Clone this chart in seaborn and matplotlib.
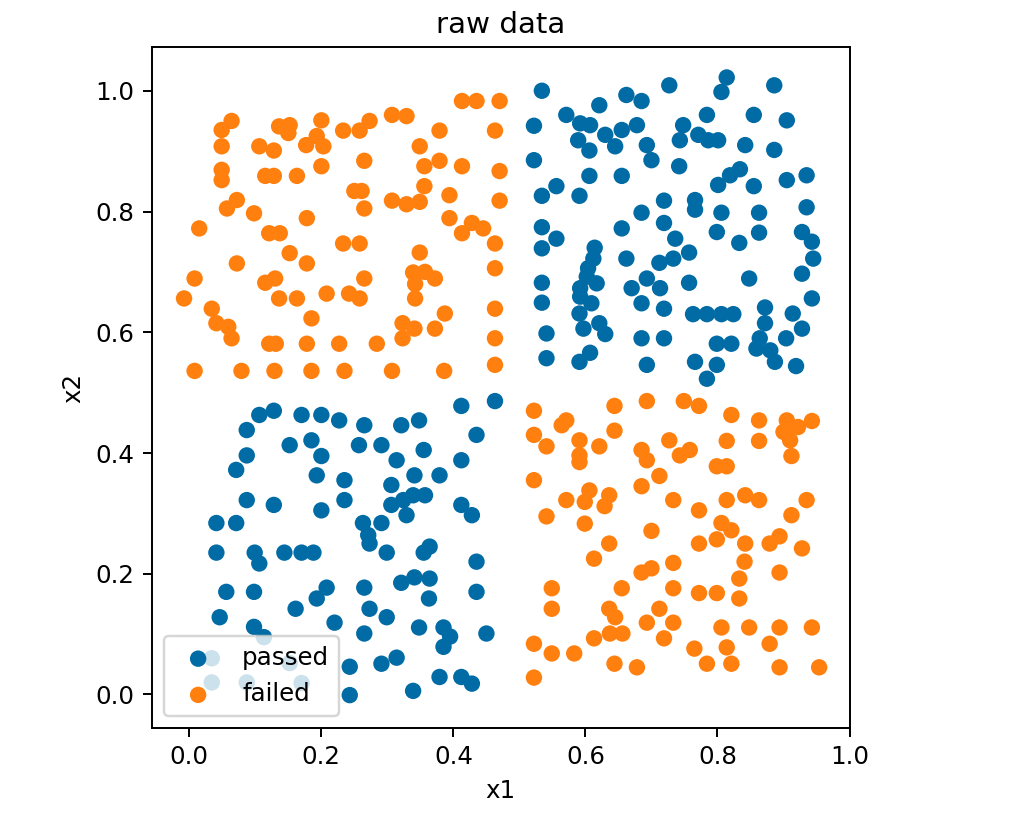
import numpy as np
import pandas as pd
import matplotlib
matplotlib.use("Agg")
import matplotlib.pyplot as plt
import seaborn as sns

# points, [x1, x2] per point
failed_top_left = np.array([
    [0.413, 0.983], [0.435, 0.983], [0.470, 0.983], [0.064, 0.950], [0.307, 0.960],
    [0.329, 0.958], [0.200, 0.951], [0.273, 0.950], [0.049, 0.935], [0.136, 0.941],
    [0.152, 0.943], [0.150, 0.930], [0.233, 0.934], [0.258, 0.934], [0.379, 0.934],
    [0.463, 0.934], [0.177, 0.910], [0.193, 0.925], [0.203, 0.908], [0.049, 0.908],
    [0.106, 0.908], [0.128, 0.901], [0.349, 0.908], [0.200, 0.875], [0.265, 0.884],
    [0.356, 0.875], [0.379, 0.884], [0.413, 0.875], [0.470, 0.867], [0.049, 0.869],
    [0.049, 0.852], [0.115, 0.859], [0.128, 0.859], [0.163, 0.859], [0.356, 0.842],
    [0.250, 0.834], [0.261, 0.834], [0.072, 0.819], [0.057, 0.805], [0.265, 0.805],
    [0.307, 0.818], [0.329, 0.812], [0.349, 0.816], [0.394, 0.827], [0.470, 0.818],
    [0.098, 0.797], [0.178, 0.789], [0.394, 0.789], [0.015, 0.772], [0.121, 0.764],
    [0.137, 0.764], [0.413, 0.764], [0.428, 0.781], [0.445, 0.772], [0.233, 0.747],
    [0.258, 0.747], [0.463, 0.747], [0.152, 0.731], [0.349, 0.732], [0.072, 0.714],
    [0.178, 0.714], [0.463, 0.706], [0.008, 0.689], [0.115, 0.682], [0.130, 0.689],
    [0.265, 0.689], [0.339, 0.699], [0.357, 0.700], [0.372, 0.689], [0.342, 0.680],
    [-0.008, 0.656], [0.136, 0.656], [0.163, 0.656], [0.208, 0.664], [0.242, 0.664],
    [0.258, 0.656], [0.342, 0.656], [0.034, 0.639], [0.185, 0.623], [0.387, 0.631],
    [0.463, 0.639], [0.041, 0.615], [0.059, 0.609], [0.064, 0.590], [0.323, 0.615],
    [0.341, 0.606], [0.372, 0.606], [0.323, 0.590], [0.121, 0.581], [0.131, 0.581],
    [0.178, 0.581], [0.227, 0.581], [0.284, 0.581], [0.463, 0.590], [0.008, 0.536],
    [0.079, 0.536], [0.129, 0.536], [0.185, 0.536], [0.235, 0.536], [0.307, 0.536],
    [0.386, 0.536], [0.463, 0.546],
])

failed_bottom_right = np.array([
    [0.522, 0.470], [0.564, 0.446], [0.571, 0.454], [0.591, 0.421], [0.621, 0.411],
    [0.644, 0.478], [0.644, 0.437], [0.693, 0.486], [0.749, 0.486], [0.772, 0.478],
    [0.821, 0.463], [0.863, 0.454], [0.905, 0.454], [0.943, 0.453], [0.922, 0.443],
    [0.900, 0.435], [0.910, 0.421], [0.912, 0.395], [0.522, 0.430], [0.541, 0.411],
    [0.591, 0.396], [0.591, 0.385], [0.685, 0.405], [0.693, 0.388], [0.727, 0.421],
    [0.743, 0.396], [0.758, 0.405], [0.814, 0.420], [0.863, 0.420], [0.799, 0.378],
    [0.814, 0.378], [0.712, 0.362], [0.522, 0.355], [0.685, 0.345], [0.606, 0.338],
    [0.599, 0.319], [0.571, 0.322], [0.636, 0.330], [0.629, 0.312], [0.733, 0.322],
    [0.772, 0.305], [0.814, 0.322], [0.842, 0.330], [0.863, 0.322], [0.935, 0.322],
    [0.541, 0.295], [0.599, 0.283], [0.912, 0.297], [0.806, 0.284], [0.821, 0.272],
    [0.799, 0.257], [0.772, 0.250], [0.842, 0.250], [0.879, 0.250], [0.894, 0.262],
    [0.928, 0.242], [0.700, 0.271], [0.636, 0.250], [0.613, 0.225], [0.685, 0.202],
    [0.700, 0.209], [0.733, 0.218], [0.841, 0.220], [0.833, 0.192], [0.894, 0.202],
    [0.549, 0.176], [0.655, 0.176], [0.733, 0.176], [0.772, 0.168], [0.799, 0.168],
    [0.833, 0.159], [0.549, 0.142], [0.636, 0.142], [0.645, 0.128], [0.712, 0.142],
    [0.693, 0.119], [0.733, 0.119], [0.613, 0.093], [0.637, 0.101], [0.656, 0.101],
    [0.806, 0.111], [0.848, 0.111], [0.894, 0.111], [0.943, 0.111], [0.719, 0.093],
    [0.522, 0.084], [0.549, 0.068], [0.583, 0.068], [0.765, 0.076], [0.814, 0.078],
    [0.879, 0.084], [0.644, 0.051], [0.678, 0.045], [0.784, 0.051], [0.821, 0.051],
    [0.894, 0.045], [0.954, 0.045], [0.522, 0.028],
])

passed_top_right = np.array([
    [0.534, 1.000], [0.621, 0.976], [0.662, 0.993], [0.685, 0.983], [0.727, 1.009],
    [0.814, 1.022], [0.806, 0.998], [0.886, 1.009], [0.522, 0.942], [0.571, 0.960],
    [0.592, 0.946], [0.607, 0.943], [0.589, 0.918], [0.606, 0.901], [0.630, 0.927],
    [0.645, 0.908], [0.655, 0.935], [0.678, 0.943], [0.693, 0.910], [0.700, 0.885],
    [0.748, 0.943], [0.743, 0.918], [0.784, 0.960], [0.771, 0.927], [0.786, 0.918],
    [0.801, 0.918], [0.842, 0.910], [0.855, 0.960], [0.886, 0.902], [0.905, 0.951],
    [0.522, 0.885], [0.742, 0.875], [0.606, 0.859], [0.655, 0.859], [0.556, 0.842],
    [0.534, 0.826], [0.591, 0.826], [0.801, 0.844], [0.819, 0.860], [0.834, 0.870],
    [0.855, 0.842], [0.905, 0.852], [0.935, 0.860], [0.719, 0.818], [0.766, 0.819],
    [0.766, 0.803], [0.685, 0.798], [0.806, 0.798], [0.863, 0.798], [0.935, 0.807],
    [0.534, 0.774], [0.556, 0.755], [0.655, 0.772], [0.719, 0.781], [0.736, 0.755],
    [0.799, 0.766], [0.833, 0.748], [0.863, 0.765], [0.928, 0.766], [0.943, 0.750],
    [0.534, 0.739], [0.614, 0.740], [0.612, 0.722], [0.662, 0.722], [0.712, 0.715],
    [0.733, 0.722], [0.757, 0.732], [0.945, 0.722], [0.604, 0.706], [0.602, 0.692],
    [0.617, 0.681], [0.592, 0.673], [0.534, 0.682], [0.670, 0.673], [0.693, 0.689],
    [0.713, 0.673], [0.757, 0.682], [0.848, 0.689], [0.928, 0.697], [0.534, 0.649],
    [0.592, 0.659], [0.609, 0.648], [0.685, 0.648], [0.719, 0.639], [0.591, 0.631],
    [0.763, 0.630], [0.784, 0.630], [0.806, 0.630], [0.824, 0.630], [0.872, 0.641],
    [0.914, 0.631], [0.943, 0.656], [0.872, 0.615], [0.541, 0.598], [0.597, 0.606],
    [0.621, 0.615], [0.630, 0.597], [0.685, 0.590], [0.719, 0.590], [0.799, 0.581],
    [0.821, 0.581], [0.864, 0.590], [0.904, 0.590], [0.928, 0.606], [0.859, 0.573],
    [0.880, 0.570], [0.541, 0.557], [0.591, 0.551], [0.607, 0.566], [0.693, 0.546],
    [0.766, 0.551], [0.799, 0.546], [0.784, 0.523], [0.887, 0.551], [0.919, 0.544],
])

passed_bottom_left = np.array([
    [0.463, 0.486], [0.412, 0.478], [0.435, 0.430], [0.106, 0.463], [0.128, 0.470],
    [0.170, 0.463], [0.200, 0.463], [0.227, 0.454], [0.265, 0.446], [0.321, 0.446],
    [0.348, 0.454], [0.087, 0.438], [0.152, 0.413], [0.185, 0.421], [0.200, 0.395],
    [0.257, 0.413], [0.291, 0.413], [0.314, 0.388], [0.355, 0.405], [0.412, 0.388],
    [0.087, 0.396], [0.071, 0.372], [0.193, 0.363], [0.235, 0.355], [0.306, 0.347],
    [0.341, 0.363], [0.379, 0.363], [0.087, 0.322], [0.128, 0.314], [0.200, 0.305],
    [0.235, 0.322], [0.306, 0.314], [0.324, 0.322], [0.339, 0.330], [0.357, 0.330],
    [0.329, 0.297], [0.412, 0.314], [0.428, 0.297], [0.041, 0.284], [0.071, 0.284],
    [0.263, 0.284], [0.291, 0.284], [0.271, 0.264], [0.273, 0.250], [0.041, 0.235],
    [0.099, 0.235], [0.106, 0.217], [0.144, 0.235], [0.170, 0.235], [0.188, 0.235],
    [0.299, 0.235], [0.355, 0.235], [0.364, 0.245], [0.435, 0.220], [0.056, 0.170],
    [0.098, 0.170], [0.193, 0.159], [0.208, 0.177], [0.265, 0.177], [0.321, 0.185],
    [0.341, 0.194], [0.364, 0.192], [0.363, 0.159], [0.435, 0.170], [0.161, 0.142],
    [0.273, 0.142], [0.046, 0.128], [0.098, 0.112], [0.220, 0.119], [0.265, 0.101],
    [0.299, 0.128], [0.348, 0.111], [0.385, 0.111], [0.395, 0.096], [0.385, 0.079],
    [0.450, 0.101], [0.243, 0.046], [0.291, 0.051], [0.314, 0.061], [0.379, 0.029],
    [0.412, 0.029], [0.428, 0.018], [0.339, 0.006], [0.243, -0.001], [0.034, 0.060],
    [0.034, 0.020], [0.087, 0.020], [0.113, 0.095], [0.152, 0.052], [0.170, 0.019],
])

passed = np.vstack([passed_top_right, passed_bottom_left])
failed = np.vstack([failed_top_left, failed_bottom_right])

df = pd.concat([
    pd.DataFrame({'x1': passed[:, 0], 'x2': passed[:, 1], 'result': 'passed'}),
    pd.DataFrame({'x1': failed[:, 0], 'x2': failed[:, 1], 'result': 'failed'}),
], ignore_index=True)

colors = {'passed': '#006BA4', 'failed': '#FF800E'}

dpi = 176
fig = plt.figure(figsize=(1018 / dpi, 821 / dpi), dpi=dpi)
ax = fig.add_axes([0.149, 0.1129, 0.6855, 0.8295])

for name in ['passed', 'failed']:
    sub = df[df['result'] == name]
    sns.scatterplot(data=sub, x='x1', y='x2', color=colors[name], s=45,
                    linewidth=0, edgecolor='none', label=name, legend=False, ax=ax)

ax.set_xlim(-0.057, 1.0)
ax.set_ylim(-0.056, 1.072)
ax.set_xticks([0.0, 0.2, 0.4, 0.6, 0.8, 1.0])
ax.set_yticks([0.0, 0.2, 0.4, 0.6, 0.8, 1.0])
ax.set_xlabel('x1')
ax.set_ylabel('x2')
ax.set_title('raw data')
ax.legend(loc='lower left')

fig.savefig('out.png', dpi=dpi)
